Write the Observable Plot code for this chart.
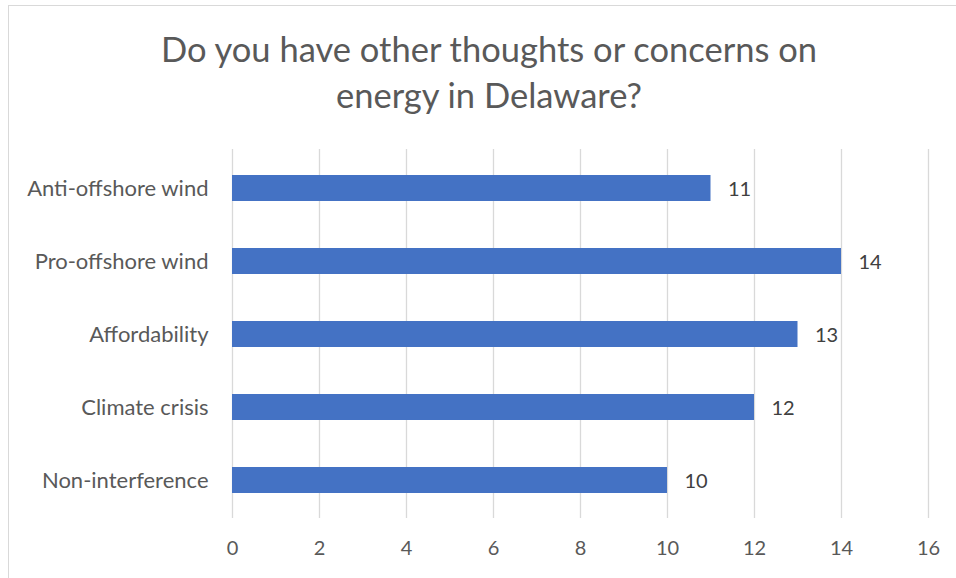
<!DOCTYPE html>
<html>
<head>
<meta charset="utf-8">
<script src="https://cdn.jsdelivr.net/npm/d3@7"></script>
<script src="https://cdn.jsdelivr.net/npm/@observablehq/plot@0.6"></script>
<style>
  html, body { margin: 0; padding: 0; background: #fff; overflow: hidden; }
  body { width: 956px; height: 578px; position: relative; font-family: Lato, "Open Sans", sans-serif; }
  #frame { position: absolute; left: 8px; top: 5px; width: 1000px; height: 700px;
           border-left: 1px solid #d9d9d9; border-top: 1px solid #d9d9d9; }
  #title { position: absolute; left: 0; top: 26px; width: 978px; text-align: center;
           color: #595959; font-size: 34.5px; line-height: 46px; }
  #chart { position: absolute; left: 0; top: 120px; }
</style>
</head>
<body>
<div id="frame"></div>
<div id="title">Do you have other thoughts or concerns on<br>energy in Delaware?</div>
<div id="chart"></div>
<script>
const categories = ["Anti-offshore wind", "Pro-offshore wind", "Affordability", "Climate crisis", "Non-interference"];
const counts = [11, 14, 13, 12, 10];
const xTicks = [0, 2, 4, 6, 8, 10, 12, 14, 16];

const rows = categories.map((c, i) => ({category: c, count: counts[i]}));

const chart = Plot.plot({
  width: 956,
  height: 458,
  marginTop: 29,
  marginBottom: 60,
  marginLeft: 232,
  marginRight: 28,
  style: {fontFamily: "Lato, 'Open Sans', sans-serif", fontSize: "20px", color: "#595959", background: "transparent"},
  x: {domain: [0, 16], ticks: xTicks, label: null, tickSize: 0, tickPadding: 22},
  y: {domain: categories, label: null, tickSize: 0, tickPadding: 24, paddingInner: 0.65, paddingOuter: 0.325},
  marks: [
    Plot.gridX(xTicks, {stroke: "#d9d9d9", strokeOpacity: 1, strokeWidth: 1.3}),
    Plot.barX(rows, {x: "count", y: "category", fill: "#4472C4"}),
    Plot.text(rows, {x: "count", y: "category", text: d => String(d.count), dx: 17, dy: 1, textAnchor: "start", fill: "#404040", fontSize: 20}),
    Plot.axisX({ticks: xTicks, tickSize: 0, tickPadding: 22, fill: "#595959", fontSize: 20}),
    Plot.axisY({tickSize: 0, tickPadding: 24, fill: "#595959", fontSize: 22})
  ]
});
document.getElementById("chart").append(chart);
</script>
</body>
</html>
